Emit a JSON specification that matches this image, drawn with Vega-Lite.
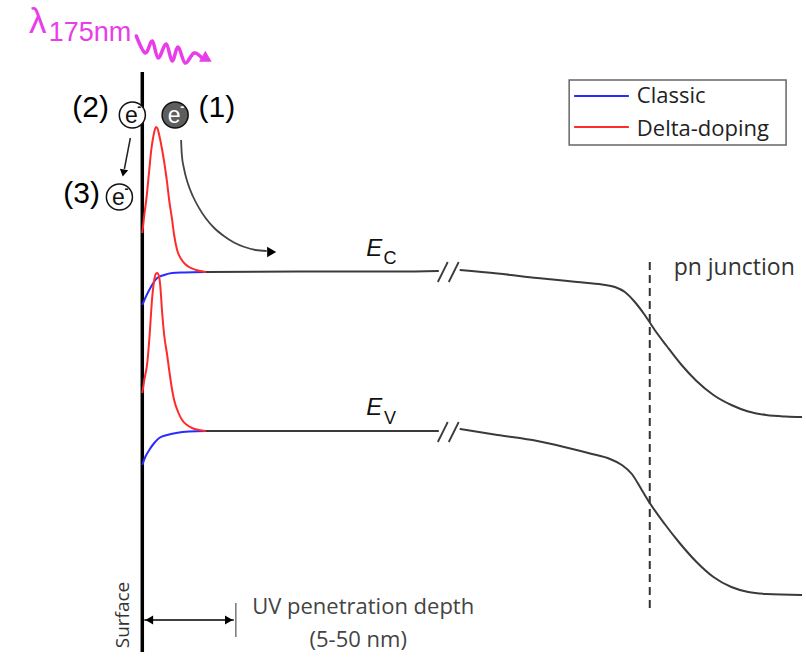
{
  "$schema": "https://vega.github.io/schema/vega-lite/v6.json",
  "width": 806,
  "height": 657,
  "autosize": {"type": "fit", "contains": "padding"},
  "padding": 0,
  "background": "white",
  "config": {"view": {"stroke": null}},
  "datasets": {
    "bands": [
      {"band": "Ec_left", "doping": "bulk", "x": 64, "y": 159},
      {"band": "Ec_left", "doping": "bulk", "x": 157, "y": 159.5},
      {"band": "Ec_left", "doping": "bulk", "x": 257, "y": 159.5},
      {"band": "Ec_left", "doping": "bulk", "x": 298, "y": 160},
      {"band": "Ec_right", "doping": "bulk", "x": 319, "y": 161},
      {"band": "Ec_right", "doping": "bulk", "x": 357, "y": 157.5},
      {"band": "Ec_right", "doping": "bulk", "x": 397, "y": 153},
      {"band": "Ec_right", "doping": "bulk", "x": 437, "y": 149},
      {"band": "Ec_right", "doping": "bulk", "x": 462, "y": 146.5},
      {"band": "Ec_right", "doping": "bulk", "x": 475, "y": 144},
      {"band": "Ec_right", "doping": "bulk", "x": 485, "y": 139},
      {"band": "Ec_right", "doping": "bulk", "x": 495, "y": 129},
      {"band": "Ec_right", "doping": "bulk", "x": 505, "y": 116},
      {"band": "Ec_right", "doping": "bulk", "x": 515, "y": 101},
      {"band": "Ec_right", "doping": "bulk", "x": 527, "y": 85},
      {"band": "Ec_right", "doping": "bulk", "x": 542, "y": 66},
      {"band": "Ec_right", "doping": "bulk", "x": 557, "y": 50},
      {"band": "Ec_right", "doping": "bulk", "x": 574, "y": 36},
      {"band": "Ec_right", "doping": "bulk", "x": 592, "y": 26},
      {"band": "Ec_right", "doping": "bulk", "x": 609, "y": 19.5},
      {"band": "Ec_right", "doping": "bulk", "x": 627, "y": 16},
      {"band": "Ec_right", "doping": "bulk", "x": 647, "y": 14.5},
      {"band": "Ec_right", "doping": "bulk", "x": 663, "y": 14},
      {"band": "Ev_left", "doping": "bulk", "x": 64, "y": 0},
      {"band": "Ev_left", "doping": "bulk", "x": 157, "y": 0},
      {"band": "Ev_left", "doping": "bulk", "x": 257, "y": 0},
      {"band": "Ev_left", "doping": "bulk", "x": 298, "y": 0},
      {"band": "Ev_right", "doping": "bulk", "x": 319, "y": 2},
      {"band": "Ev_right", "doping": "bulk", "x": 357, "y": -4},
      {"band": "Ev_right", "doping": "bulk", "x": 397, "y": -10},
      {"band": "Ev_right", "doping": "bulk", "x": 424, "y": -16},
      {"band": "Ev_right", "doping": "bulk", "x": 452, "y": -23},
      {"band": "Ev_right", "doping": "bulk", "x": 470, "y": -28},
      {"band": "Ev_right", "doping": "bulk", "x": 482, "y": -34},
      {"band": "Ev_right", "doping": "bulk", "x": 492, "y": -43},
      {"band": "Ev_right", "doping": "bulk", "x": 502, "y": -59},
      {"band": "Ev_right", "doping": "bulk", "x": 510, "y": -72},
      {"band": "Ev_right", "doping": "bulk", "x": 525, "y": -93},
      {"band": "Ev_right", "doping": "bulk", "x": 540, "y": -112},
      {"band": "Ev_right", "doping": "bulk", "x": 557, "y": -131},
      {"band": "Ev_right", "doping": "bulk", "x": 574, "y": -146},
      {"band": "Ev_right", "doping": "bulk", "x": 592, "y": -156},
      {"band": "Ev_right", "doping": "bulk", "x": 609, "y": -161},
      {"band": "Ev_right", "doping": "bulk", "x": 627, "y": -163},
      {"band": "Ev_right", "doping": "bulk", "x": 663, "y": -164},
      {"band": "Ec_classic", "doping": "Classic", "x": 0, "y": 126},
      {"band": "Ec_classic", "doping": "Classic", "x": 3, "y": 133},
      {"band": "Ec_classic", "doping": "Classic", "x": 7, "y": 141},
      {"band": "Ec_classic", "doping": "Classic", "x": 11, "y": 148},
      {"band": "Ec_classic", "doping": "Classic", "x": 15, "y": 153},
      {"band": "Ec_classic", "doping": "Classic", "x": 22, "y": 156},
      {"band": "Ec_classic", "doping": "Classic", "x": 30, "y": 158},
      {"band": "Ec_classic", "doping": "Classic", "x": 42, "y": 158.5},
      {"band": "Ec_classic", "doping": "Classic", "x": 64, "y": 159},
      {"band": "Ev_classic", "doping": "Classic", "x": 0, "y": -34},
      {"band": "Ev_classic", "doping": "Classic", "x": 3, "y": -26},
      {"band": "Ev_classic", "doping": "Classic", "x": 7, "y": -19},
      {"band": "Ev_classic", "doping": "Classic", "x": 12, "y": -12},
      {"band": "Ev_classic", "doping": "Classic", "x": 17, "y": -7},
      {"band": "Ev_classic", "doping": "Classic", "x": 25, "y": -4},
      {"band": "Ev_classic", "doping": "Classic", "x": 34, "y": -2},
      {"band": "Ev_classic", "doping": "Classic", "x": 47, "y": -0.5},
      {"band": "Ev_classic", "doping": "Classic", "x": 64, "y": 0},
      {"band": "Ec_delta", "doping": "Delta-doping", "x": 0, "y": 198},
      {"band": "Ec_delta", "doping": "Delta-doping", "x": 2, "y": 216},
      {"band": "Ec_delta", "doping": "Delta-doping", "x": 4, "y": 231},
      {"band": "Ec_delta", "doping": "Delta-doping", "x": 7, "y": 261},
      {"band": "Ec_delta", "doping": "Delta-doping", "x": 9, "y": 281},
      {"band": "Ec_delta", "doping": "Delta-doping", "x": 11, "y": 294},
      {"band": "Ec_delta", "doping": "Delta-doping", "x": 12.5, "y": 301},
      {"band": "Ec_delta", "doping": "Delta-doping", "x": 14, "y": 304},
      {"band": "Ec_delta", "doping": "Delta-doping", "x": 15.5, "y": 302},
      {"band": "Ec_delta", "doping": "Delta-doping", "x": 17, "y": 296},
      {"band": "Ec_delta", "doping": "Delta-doping", "x": 20, "y": 281},
      {"band": "Ec_delta", "doping": "Delta-doping", "x": 22, "y": 269},
      {"band": "Ec_delta", "doping": "Delta-doping", "x": 25, "y": 248},
      {"band": "Ec_delta", "doping": "Delta-doping", "x": 27, "y": 231},
      {"band": "Ec_delta", "doping": "Delta-doping", "x": 30, "y": 211},
      {"band": "Ec_delta", "doping": "Delta-doping", "x": 32, "y": 196},
      {"band": "Ec_delta", "doping": "Delta-doping", "x": 35, "y": 181},
      {"band": "Ec_delta", "doping": "Delta-doping", "x": 39, "y": 172},
      {"band": "Ec_delta", "doping": "Delta-doping", "x": 43, "y": 167},
      {"band": "Ec_delta", "doping": "Delta-doping", "x": 47, "y": 164},
      {"band": "Ec_delta", "doping": "Delta-doping", "x": 54, "y": 161},
      {"band": "Ec_delta", "doping": "Delta-doping", "x": 64, "y": 159},
      {"band": "Ev_delta", "doping": "Delta-doping", "x": 0, "y": 38},
      {"band": "Ev_delta", "doping": "Delta-doping", "x": 2, "y": 51},
      {"band": "Ev_delta", "doping": "Delta-doping", "x": 5, "y": 68},
      {"band": "Ev_delta", "doping": "Delta-doping", "x": 7, "y": 91},
      {"band": "Ev_delta", "doping": "Delta-doping", "x": 10, "y": 134},
      {"band": "Ev_delta", "doping": "Delta-doping", "x": 12, "y": 151},
      {"band": "Ev_delta", "doping": "Delta-doping", "x": 13.5, "y": 157},
      {"band": "Ev_delta", "doping": "Delta-doping", "x": 15, "y": 158},
      {"band": "Ev_delta", "doping": "Delta-doping", "x": 16.5, "y": 156},
      {"band": "Ev_delta", "doping": "Delta-doping", "x": 18, "y": 146},
      {"band": "Ev_delta", "doping": "Delta-doping", "x": 20, "y": 118},
      {"band": "Ev_delta", "doping": "Delta-doping", "x": 22, "y": 96},
      {"band": "Ev_delta", "doping": "Delta-doping", "x": 25, "y": 76},
      {"band": "Ev_delta", "doping": "Delta-doping", "x": 27, "y": 61},
      {"band": "Ev_delta", "doping": "Delta-doping", "x": 30, "y": 41},
      {"band": "Ev_delta", "doping": "Delta-doping", "x": 32, "y": 31},
      {"band": "Ev_delta", "doping": "Delta-doping", "x": 36, "y": 19},
      {"band": "Ev_delta", "doping": "Delta-doping", "x": 40, "y": 11},
      {"band": "Ev_delta", "doping": "Delta-doping", "x": 45, "y": 6},
      {"band": "Ev_delta", "doping": "Delta-doping", "x": 50, "y": 3},
      {"band": "Ev_delta", "doping": "Delta-doping", "x": 57, "y": 1},
      {"band": "Ev_delta", "doping": "Delta-doping", "x": 64, "y": 0}
    ],
    "breaks": [
      {"x": 297, "y": 149, "x2": 307, "y2": 169},
      {"x": 308, "y": 149, "x2": 318, "y2": 169},
      {"x": 297, "y": -11, "x2": 307, "y2": 9},
      {"x": 308, "y": -11, "x2": 318, "y2": 9}
    ],
    "drift": [
      {"x": 39, "y": 291}, {"x": 39.7, "y": 276.5}, {"x": 42, "y": 262}, {"x": 45.5, "y": 248.5},
      {"x": 50.5, "y": 235.5}, {"x": 56.8, "y": 223.4}, {"x": 64, "y": 212.5}, {"x": 72.3, "y": 203},
      {"x": 82, "y": 195}, {"x": 92.1, "y": 188.5}, {"x": 102.7, "y": 184}, {"x": 113.8, "y": 181},
      {"x": 125, "y": 180}
    ],
    "photon": [
      {"x": -6, "y": 395}, {"x": 3, "y": 378}, {"x": 10, "y": 390}, {"x": 16, "y": 373},
      {"x": 24, "y": 387}, {"x": 30, "y": 370}, {"x": 36, "y": 384}, {"x": 43, "y": 368},
      {"x": 52, "y": 378}, {"x": 60, "y": 373}
    ],
    "electrons": [
      {"label": "(1)", "kind": "emitted", "x": 33, "y": 316, "lx": 75, "ly": 323},
      {"label": "(2)", "kind": "surface", "x": -10, "y": 316, "lx": -52, "ly": 323},
      {"label": "(3)", "kind": "surface", "x": -23, "y": 234, "lx": -61, "ly": 237}
    ]
  },
  "encoding": {
    "x": {"field": "x", "type": "quantitative", "axis": null, "scale": {"domain": [-143, 663], "nice": false, "zero": false}},
    "y": {"field": "y", "type": "quantitative", "axis": null, "scale": {"domain": [-226, 431], "nice": false, "zero": false}}
  },
  "layer": [
    {
      "data": {"values": [{"x": 0, "y": 359, "y2": -221}]},
      "mark": {"type": "rule", "color": "black", "strokeWidth": 3.5},
      "encoding": {"y2": {"field": "y2"}}
    },
    {
      "data": {"values": [{"x": 510, "y": 169, "y2": -182}]},
      "mark": {"type": "rule", "color": "#333333", "strokeWidth": 2, "strokeDash": [8, 5]},
      "encoding": {"y2": {"field": "y2"}}
    },
    {
      "data": {"name": "bands"},
      "transform": [{"filter": "datum.doping === 'bulk'"}],
      "mark": {"type": "line", "color": "#3a3a3a", "strokeWidth": 2, "interpolate": "monotone"},
      "encoding": {"detail": {"field": "band"}}
    },
    {
      "data": {"name": "bands"},
      "transform": [{"filter": "datum.doping === 'Classic'"}],
      "mark": {"type": "line", "color": "#2b2bff", "strokeWidth": 2, "interpolate": "monotone"},
      "encoding": {"detail": {"field": "band"}}
    },
    {
      "data": {"name": "bands"},
      "transform": [{"filter": "datum.doping === 'Delta-doping'"}],
      "mark": {"type": "line", "color": "#ff2b2b", "strokeWidth": 2, "interpolate": "monotone"},
      "encoding": {"detail": {"field": "band"}}
    },
    {
      "data": {"name": "breaks"},
      "mark": {"type": "rule", "color": "#3a3a3a", "strokeWidth": 1.8},
      "encoding": {"x2": {"field": "x2"}, "y2": {"field": "y2"}}
    },
    {
      "data": {"name": "drift"},
      "mark": {"type": "line", "color": "#444444", "strokeWidth": 1.8, "interpolate": "monotone"},
      "encoding": {}
    },
    {
      "data": {"values": [{"x": 130, "y": 179}]},
      "mark": {"type": "point", "shape": "triangle-right", "filled": true, "color": "black", "size": 110, "opacity": 1}
    },
    {
      "data": {"values": [{"x": -12, "y": 293, "x2": -18, "y2": 262}]},
      "mark": {"type": "rule", "color": "#222222", "strokeWidth": 1.5},
      "encoding": {"x2": {"field": "x2"}, "y2": {"field": "y2"}}
    },
    {
      "data": {"values": [{"x": -19, "y": 258}]},
      "mark": {"type": "point", "shape": "triangle-down", "filled": true, "color": "black", "size": 70, "angle": 10, "opacity": 1}
    },
    {
      "data": {"name": "photon"},
      "mark": {"type": "line", "color": "#e83de8", "strokeWidth": 3.5, "interpolate": "cardinal", "strokeCap": "round", "strokeJoin": "round"},
      "encoding": {}
    },
    {
      "data": {"values": [{"x": 65, "y": 372}]},
      "mark": {"type": "point", "shape": "triangle-right", "filled": true, "color": "#e83de8", "size": 160, "angle": 30, "opacity": 1}
    },
    {
      "data": {"name": "electrons"},
      "mark": {"type": "point", "shape": "circle", "filled": true, "size": 680, "stroke": "#111111", "strokeWidth": 1.5, "opacity": 1},
      "encoding": {
        "fill": {"field": "kind", "type": "nominal", "scale": {"domain": ["emitted", "surface"], "range": ["#5e5e5e", "#ffffff"]}, "legend": null}
      }
    },
    {
      "data": {"name": "electrons"},
      "transform": [{"filter": "datum.kind === 'surface'"}],
      "mark": {"type": "text", "font": "Liberation Sans", "fontSize": 23, "color": "#111111", "baseline": "middle", "align": "center", "dx": -1, "dy": 1},
      "encoding": {"text": {"value": "e"}}
    },
    {
      "data": {"name": "electrons"},
      "transform": [{"filter": "datum.kind === 'emitted'"}],
      "mark": {"type": "text", "font": "Liberation Sans", "fontSize": 23, "color": "#ffffff", "baseline": "middle", "align": "center", "dx": -1, "dy": 1},
      "encoding": {"text": {"value": "e"}}
    },
    {
      "data": {"name": "electrons"},
      "transform": [{"filter": "datum.kind === 'surface'"}],
      "mark": {"type": "text", "font": "Liberation Sans", "fontSize": 12, "fontWeight": "bold", "color": "#111111", "baseline": "middle", "align": "center", "dx": 7, "dy": -8},
      "encoding": {"text": {"value": "-"}}
    },
    {
      "data": {"name": "electrons"},
      "transform": [{"filter": "datum.kind === 'emitted'"}],
      "mark": {"type": "text", "font": "Liberation Sans", "fontSize": 12, "fontWeight": "bold", "color": "#ffffff", "baseline": "middle", "align": "center", "dx": 7, "dy": -8},
      "encoding": {"text": {"value": "-"}}
    },
    {
      "data": {"name": "electrons"},
      "mark": {"type": "text", "font": "Liberation Sans", "fontSize": 30, "color": "black", "baseline": "middle", "align": "center"},
      "encoding": {
        "x": {"field": "lx", "type": "quantitative"},
        "y": {"field": "ly", "type": "quantitative"},
        "text": {"field": "label"}
      }
    },
    {
      "data": {"values": [{"x": -105, "y": 409, "t": "λ"}]},
      "mark": {"type": "text", "font": "Liberation Sans", "fontSize": 35, "color": "#e83de8", "baseline": "middle", "align": "center"},
      "encoding": {"text": {"field": "t"}}
    },
    {
      "data": {"values": [{"x": -94, "y": 398, "t": "175nm"}]},
      "mark": {"type": "text", "font": "Liberation Sans", "fontSize": 27, "color": "#e83de8", "baseline": "middle", "align": "left"},
      "encoding": {"text": {"field": "t"}}
    },
    {
      "data": {"values": [{"x": 233, "y": 182, "t": "E"}, {"x": 233, "y": 23, "t": "E"}]},
      "mark": {"type": "text", "font": "Liberation Sans", "fontSize": 24, "fontStyle": "italic", "color": "#111111", "baseline": "middle", "align": "center"},
      "encoding": {"text": {"field": "t"}}
    },
    {
      "data": {"values": [{"x": 249, "y": 172, "t": "C"}, {"x": 249, "y": 12, "t": "V"}]},
      "mark": {"type": "text", "font": "Liberation Sans", "fontSize": 18, "color": "#111111", "baseline": "middle", "align": "center"},
      "encoding": {"text": {"field": "t"}}
    },
    {
      "data": {"values": [{"x": 534, "y": 163, "t": "pn junction"}]},
      "mark": {"type": "text", "font": "Open Sans", "fontSize": 23, "color": "#333333", "baseline": "middle", "align": "left"},
      "encoding": {"text": {"field": "t"}}
    },
    {
      "data": {"values": [{"x": 222, "y": -176, "t": "UV penetration depth"}, {"x": 217, "y": -209, "t": "(5-50 nm)"}]},
      "mark": {"type": "text", "font": "Open Sans", "fontSize": 22, "color": "#444444", "baseline": "middle", "align": "center"},
      "encoding": {"text": {"field": "t"}}
    },
    {
      "data": {"values": [{"x": -19, "y": -184, "t": "Surface"}]},
      "mark": {"type": "text", "font": "Open Sans", "fontSize": 19, "color": "#333333", "baseline": "middle", "align": "center", "angle": 270},
      "encoding": {"text": {"field": "t"}}
    },
    {
      "data": {"values": [{"x": 2, "y": -189, "x2": 92}]},
      "mark": {"type": "rule", "color": "black", "strokeWidth": 1.5},
      "encoding": {"x2": {"field": "x2"}}
    },
    {
      "data": {"values": [{"x": 7, "y": -189}]},
      "mark": {"type": "point", "shape": "triangle-left", "filled": true, "color": "black", "size": 80, "opacity": 1}
    },
    {
      "data": {"values": [{"x": 87, "y": -189}]},
      "mark": {"type": "point", "shape": "triangle-right", "filled": true, "color": "black", "size": 80, "opacity": 1}
    },
    {
      "data": {"values": [{"x": 94, "y": -172, "y2": -206}]},
      "mark": {"type": "rule", "color": "#777777", "strokeWidth": 1.5},
      "encoding": {"y2": {"field": "y2"}}
    },
    {
      "data": {"values": [{"x": 429, "y": 351, "x2": 647, "y2": 286}]},
      "mark": {"type": "rect", "fill": "white", "stroke": "#666666", "strokeWidth": 1.5},
      "encoding": {"x2": {"field": "x2"}, "y2": {"field": "y2"}}
    },
    {
      "data": {"values": [{"x": 434, "x2": 489, "y": 335, "doping": "Classic"}]},
      "mark": {"type": "rule", "strokeWidth": 2, "color": "#2b2bff"},
      "encoding": {"x2": {"field": "x2"}}
    },
    {
      "data": {"values": [{"x": 434, "x2": 489, "y": 304, "doping": "Delta-doping"}]},
      "mark": {"type": "rule", "strokeWidth": 2, "color": "#ff2b2b"},
      "encoding": {"x2": {"field": "x2"}}
    },
    {
      "data": {"values": [{"x": 497, "y": 335, "t": "Classic"}, {"x": 497, "y": 302, "t": "Delta-doping"}]},
      "mark": {"type": "text", "font": "Open Sans", "fontSize": 22, "color": "#222222", "baseline": "middle", "align": "left"},
      "encoding": {"text": {"field": "t"}}
    }
  ]
}
